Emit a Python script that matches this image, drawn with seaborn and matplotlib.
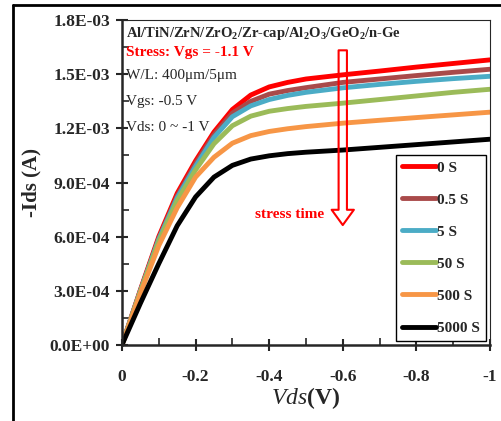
import matplotlib
matplotlib.use("Agg")
import matplotlib.pyplot as plt
import matplotlib.ticker as mticker
from matplotlib.lines import Line2D
import numpy as np
import pandas as pd
import seaborn as sns

# Vds sweep (V) and drain current (A) for each stress time
vds = [0, -0.05, -0.1, -0.15, -0.2, -0.25, -0.3, -0.35, -0.4, -0.45, -0.5, -0.6, -0.7, -0.8, -0.9, -1.0]
stress_labels = ["0 S", "0.5 S", "5 S", "50 S", "500 S", "5000 S"]
id_0s = [0, 3.05e-4, 6.0e-4, 8.4e-4, 1.02e-3, 1.18e-3, 1.305e-3, 1.385e-3, 1.43e-3, 1.455e-3, 1.474e-3, 1.497e-3, 1.518e-3, 1.540e-3, 1.560e-3, 1.580e-3]
id_05s = [0, 3.0e-4, 5.9e-4, 8.25e-4, 1.005e-3, 1.165e-3, 1.285e-3, 1.35e-3, 1.39e-3, 1.41e-3, 1.426e-3, 1.455e-3, 1.474e-3, 1.493e-3, 1.511e-3, 1.528e-3]
id_5s = [0, 2.98e-4, 5.85e-4, 8.15e-4, 9.9e-4, 1.15e-3, 1.265e-3, 1.325e-3, 1.36e-3, 1.383e-3, 1.40e-3, 1.425e-3, 1.444e-3, 1.461e-3, 1.476e-3, 1.489e-3]
id_50s = [0, 2.95e-4, 5.75e-4, 8.0e-4, 9.7e-4, 1.115e-3, 1.215e-3, 1.268e-3, 1.295e-3, 1.31e-3, 1.322e-3, 1.34e-3, 1.36e-3, 1.38e-3, 1.40e-3, 1.417e-3]
id_500s = [0, 2.85e-4, 5.5e-4, 7.6e-4, 9.3e-4, 1.04e-3, 1.118e-3, 1.16e-3, 1.183e-3, 1.198e-3, 1.21e-3, 1.229e-3, 1.245e-3, 1.26e-3, 1.275e-3, 1.29e-3]
id_5000s = [0, 2.3e-4, 4.5e-4, 6.6e-4, 8.2e-4, 9.3e-4, 9.95e-4, 1.03e-3, 1.048e-3, 1.06e-3, 1.068e-3, 1.08e-3, 1.095e-3, 1.11e-3, 1.125e-3, 1.14e-3]
colors = ["#FF0000", "#A94A4A", "#4BACC6", "#9BBB59", "#F79646", "#000000"]

y_ticks = [0, 3e-4, 6e-4, 9e-4, 1.2e-3, 1.5e-3, 1.8e-3]
x_ticks = [0, -0.2, -0.4, -0.6, -0.8, -1.0]

# arrow and label for stress time (data coords)
arrow_x = -0.6
arrow_top = 1.633e-3
arrow_bottom = 6.64e-4

all_ids = [id_0s, id_05s, id_5s, id_50s, id_500s, id_5000s]
rows = []
for lab, ids in zip(stress_labels, all_ids):
    for v, i in zip(vds, ids):
        rows.append({"Vds": v, "Id": i, "stress": lab})
df = pd.DataFrame(rows)

sns.set_style("ticks")
plt.rcParams["font.family"] = ["Liberation Serif", "DejaVu Serif"]
plt.rcParams["mathtext.fontset"] = "custom"
plt.rcParams["mathtext.rm"] = "Liberation Serif:bold"
plt.rcParams["mathtext.it"] = "Liberation Serif:italic"
plt.rcParams["mathtext.bf"] = "Liberation Serif:bold"

fig = plt.figure(figsize=(5.02, 4.21), dpi=100)
ax = fig.add_axes([0.243, 0.181, 0.733, 0.771])

sns.lineplot(data=df, x="Vds", y="Id", hue="stress", palette=colors,
             linewidth=3.5, ax=ax, legend=True)
for ln in ax.get_lines():
    ln.set_solid_joinstyle("round")
    ln.set_solid_capstyle("round")

ax.set_xlim(0, -1)
ax.set_ylim(0, 1.8e-3)
ax.set_xticks(x_ticks)
ax.set_yticks(y_ticks)
ax.xaxis.set_minor_locator(mticker.MultipleLocator(0.1))
ax.yaxis.set_minor_locator(mticker.MultipleLocator(1.5e-4))
ax.xaxis.set_major_formatter(mticker.FuncFormatter(lambda v, p: "%g" % v))
ax.yaxis.set_major_formatter(mticker.FuncFormatter(lambda v, p: "{:.1E}".format(v)))
ax.tick_params(which="major", direction="inout", length=9, width=1.5, labelsize=12.5)
ax.tick_params(axis="y", which="major", pad=4)
ax.tick_params(axis="x", which="major", pad=13)
ax.tick_params(which="minor", direction="in", length=5, width=1.2)
for lab in ax.get_xticklabels() + ax.get_yticklabels():
    lab.set_fontweight("bold")

for side in ["left", "bottom"]:
    ax.spines[side].set_linewidth(1.8)
for side in ["top", "right"]:
    ax.spines[side].set_linewidth(0.8)

ax.set_xlabel(r"$\mathit{Vds}$(V)", fontsize=17, fontweight="bold", labelpad=0)
ax.set_ylabel("-Ids (A)", fontsize=15, fontweight="bold", labelpad=6)

ax.text(0.012, 0.96, r"Al/TiN/ZrN/ZrO$_2$/Zr-cap/Al$_2$O$_3$/GeO$_2$/n-Ge",
        transform=ax.transAxes, fontsize=10.5, fontweight="bold", va="center")
ax.text(0.012, 0.90, "Stress: Vgs = -1.1 V", transform=ax.transAxes,
        fontsize=11, fontweight="bold", color="red", va="center")
ax.text(0.012, 0.83, "W/L: 400\u03bcm/5\u03bcm", transform=ax.transAxes, fontsize=11, va="center")
ax.text(0.012, 0.75, "Vgs: -0.5 V", transform=ax.transAxes, fontsize=11, va="center")
ax.text(0.012, 0.668, "Vds: 0 ~ -1 V", transform=ax.transAxes, fontsize=11, va="center")

ax.annotate("", xy=(arrow_x, arrow_bottom), xytext=(arrow_x, arrow_top),
            arrowprops=dict(arrowstyle="simple,head_length=1.1,head_width=1.6,tail_width=0.6",
                            mutation_scale=10, fc="none", ec="red", lw=1.5,
                            shrinkA=0, shrinkB=0))
ax.text(-0.548, 7.25e-4, "stress time", color="red", fontsize=11,
        fontweight="bold", ha="right", va="center")

leg = ax.legend(loc="lower right", frameon=True, fancybox=False, edgecolor="black",
                handlelength=2.2, handletextpad=0.1, labelspacing=1.2,
                borderaxespad=0.25, borderpad=0.4, prop={"weight": "bold", "size": 11})
leg.get_frame().set_linewidth(1.0)
leg.get_frame().set_alpha(1)
for h in leg.get_lines():
    h.set_linewidth(3.5)

# outer frame at left and top of the figure
fig.add_artist(Line2D([0.025, 0.025], [0, 0.988], color="black", lw=2, transform=fig.transFigure))
fig.add_artist(Line2D([0.025, 1.0], [0.988, 0.988], color="black", lw=2, transform=fig.transFigure))

fig.savefig("out.png", dpi=100)
